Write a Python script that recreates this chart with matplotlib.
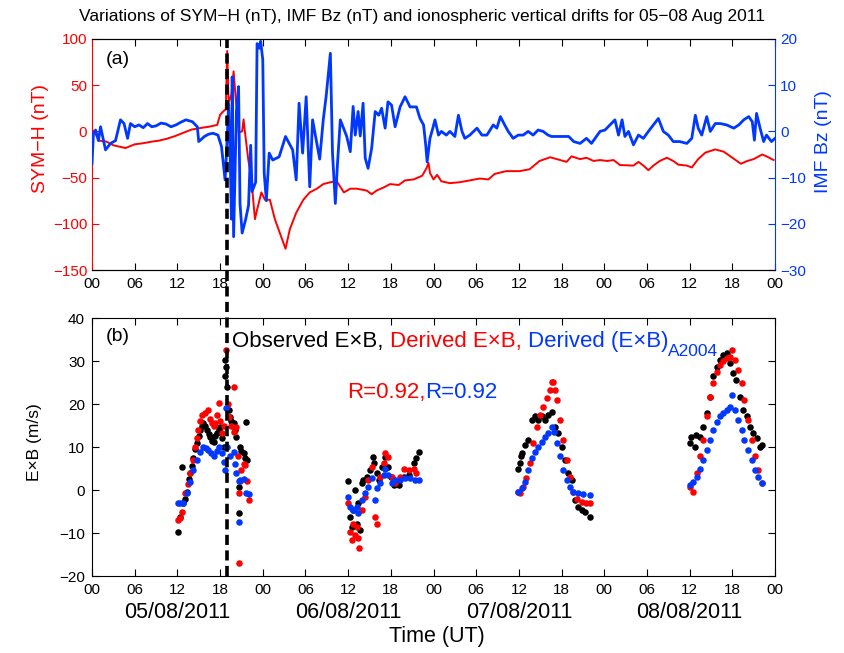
import matplotlib
matplotlib.use("Agg")
import matplotlib.pyplot as plt
import matplotlib.transforms as mtransforms
from matplotlib.lines import Line2D
import numpy as np

plt.rcParams["font.family"] = ["Liberation Sans", "DejaVu Sans"]

RED = "#ff0000"
BLUE = "#0038ff"

# hours since 00 UT 05/08/2011
symh_t = [0.0, 0.5, 1.0, 2.0, 3.0, 4.7, 6.0, 7.0, 8.5, 9.4, 10.5, 11.7, 13.0, 14.0, 15.5,
          16.4, 17.6, 18.0, 18.5, 18.8, 19.0, 19.2, 19.6, 19.9, 20.1, 20.3, 20.5, 20.6,
          21.1, 21.3, 21.5, 21.95, 22.4, 22.9, 23.1, 23.8, 24.3, 25.0, 25.7, 26.4, 27.2,
          27.8, 28.7, 29.7, 30.6, 31.6, 32.5, 33.5, 34.4, 35.4, 36.3, 37.2, 38.6, 39.3,
          40.0, 40.9, 41.9, 43.1, 44.0, 45.2, 46.4, 47.0, 47.3, 47.5, 48.0, 48.5, 49.1,
          50.3, 51.7, 53.1, 54.5, 55.7, 56.6, 58.2, 60.1, 61.5, 62.9, 64.4, 65.8, 66.7,
          67.4, 68.6, 69.5, 70.5, 71.4, 72.4, 73.3, 74.2, 76.1, 76.8, 77.5, 78.2, 78.9,
          79.8, 80.8, 81.7, 82.4, 83.6, 84.3, 85.2, 86.2, 87.6, 88.8, 90.0, 91.2, 92.1,
          93.0, 94.2, 94.8, 95.8]
symh_v = [2, -3, -10, -11, -15, -18, -14, -13, -11, -10, -8, -5, -1, 2, 4,
          5, 7, 18, 22, 24, 87, 31, 40, 65, 45, 27, 24, -1,
          0, 13, -1, -30, -52, -95, -88, -66, -74, -74, -95, -110, -127,
          -106, -88, -74, -66, -62, -57, -55, -54, -66, -62, -62, -64, -68,
          -64, -61, -57, -58, -53, -52, -48, -40, -34, -45, -52, -47, -54,
          -56, -55, -53, -51, -52, -46, -43, -43, -41, -32, -28, -31, -33,
          -27, -30, -28.5, -32, -31, -32, -31, -36.4, -37, -33, -37, -42, -37,
          -32, -28.5, -32, -36, -37, -39, -30, -23, -19.5, -22, -28.5, -35, -32,
          -30, -25, -27, -31]

bz_t = [0.0, 0.2, 0.5, 0.9, 1.2, 1.9, 2.6, 3.3, 4.0, 4.5, 5.0, 5.4, 6.0, 6.6, 7.2, 7.8,
        8.4, 9.0, 9.7, 10.4, 11.1, 11.8, 12.5, 13.2, 14.1, 14.8, 15.0, 15.8, 16.4, 17.0,
        17.7, 18.2, 18.7, 18.9, 19.2, 19.4, 19.6, 19.7, 19.9, 20.3, 20.6, 20.8, 21.1,
        21.6, 22.0, 22.3, 22.5, 23.0, 23.2, 23.5, 23.7, 24.0, 24.2, 24.5, 24.9, 25.4,
        26.3, 27.2, 28.2, 28.7, 29.1, 29.6, 30.1, 30.6, 31.0, 32.0, 32.5, 32.9, 33.5,
        33.8, 34.2, 34.5, 34.9, 35.8, 36.3, 36.7, 37.0, 37.4, 37.7, 38.1, 38.4, 38.8,
        39.3, 39.8, 40.3, 40.7, 41.2, 41.6, 42.1, 42.6, 43.3, 44.0, 44.7, 45.6, 46.1,
        46.6, 46.9, 47.1, 47.5, 47.9, 48.2, 48.7, 49.1, 49.8, 50.3, 51.0, 51.5, 52.0,
        52.4, 53.1, 54.1, 54.8, 55.5, 56.4, 56.9, 57.4, 58.0, 58.5, 59.2, 59.9, 60.6,
        61.3, 62.0, 62.7, 63.4, 64.1, 64.6, 65.8, 67.0, 67.7, 68.6, 69.5, 70.2, 70.9,
        71.4, 72.1, 72.8, 73.5, 74.0, 74.5, 74.9, 75.4, 76.1, 76.8, 77.5, 78.2, 78.9,
        79.6, 80.3, 81.0, 81.7, 82.6, 83.6, 84.3, 84.8, 85.2, 85.7, 86.4, 86.9, 87.6,
        88.3, 89.2, 90.2, 90.9, 91.6, 92.3, 92.8, 93.1, 93.4, 93.9, 94.4, 94.8, 95.5,
        96.0]
bz_v = [-7, -0.4, 0.3, -2, 1, -4, -2.6, -2, 2.5, 1.7, -1.5, 1.7, 1.0, 1.4, 0.8, 1.7,
        1.0, 1.2, 1.8, 1.6, 1.0, 1.4, 2.0, 2.5, 2.1, 1, -2.2, -1.1, -0.6, -0.4,
        -0.8, -3.3, -10.5, -4.7, 6, -4, -19, 11.8, -22.8, 4.6, 9.7, -15.6, -22,
        -19, -16, -3, -13, -11, 19, 18, 19.5, 15.5, -9, -15, -4.7, -6.2,
        -5.5, -1.1, -4, -10.5, 6.1, -4.7, 7.5, -12, 2.5, -6, 2.5, 7.5, 16.9,
        -4.7, -15.6, -7, 2.5, -1.1, -4.4, 5.4, -0.8, 4.3, -1, 6.1, -5.8, -8,
        -3.7, 4.3, 3.5, 5, 0.7, 6.4, 5.7, 1, 5.3, 7.5, 5.3, 5.3, 2.8,
        1.4, -2.9, -6.6, -1.5, 0.7, 2.5, -0.8, 0, -0.8, 0, -1.1, 3.5, 0,
        -1.5, -0.8, 0.7, -0.8, -0.8, 1.4, 0.7, 3.2, 1.4, 0, -1.5, -0.8, -0.8,
        0, -0.8, 0.3, 0, -0.8, -1.1, -1.1, -1.1, -2.2, -2.6, -1.5, -2.6, -1.1,
        0, 0.3, 1.4, 2.5, -0.8, 2.5, -1.1, 0, -2.9, -0.8, -1.5, 0, 1.4,
        2.8, 0, -0.8, -2.2, -2.2, -2.6, -1.5, 3.5, 0.7, -0.8, 3.2, 0, 1.7,
        1.7, 1.4, 0.7, 1.4, 2.5, 3.2, 2.1, -1.9, 3.9, 0.7, -2.2, -0.8, -2.2,
        -1.5]

# vertical drifts (m/s)
obs_t = [12.1, 12.3, 12.6, 12.8, 13.0, 13.3, 13.6, 13.8, 14.0, 14.2, 14.5, 14.7, 15.0, 15.2,
         15.4, 15.6, 15.9, 16.1, 16.4, 16.6, 16.9, 17.1, 17.3, 17.5, 17.8, 18.0, 18.3, 18.5,
         18.7, 18.75, 18.8, 19.0, 19.2, 19.4, 19.6, 19.9, 20.1, 20.3, 20.6, 20.7, 20.8,
         21.0, 21.3, 21.5, 21.7, 21.75,
         36.0, 36.3, 36.5, 36.7, 36.9, 37.2, 37.4, 37.7, 37.9, 38.1, 38.6, 39.1, 39.5, 39.7,
         40.0, 40.3, 40.7, 41.2, 41.6, 42.0, 42.4, 43.1, 43.8, 44.5, 45.2, 45.6, 45.9,
         59.9, 60.1, 60.3, 60.5, 60.9, 61.3, 61.8, 62.3, 62.7, 63.2, 63.7, 64.1, 64.6, 65.1,
         65.5, 66.0, 66.5, 66.9, 67.4, 67.9, 68.3, 68.8, 69.3, 69.98,
         84.0, 84.2, 84.7, 84.9, 85.4, 85.9, 86.4, 86.9, 87.3, 87.8, 88.3, 88.7, 89.2, 89.7,
         90.1, 90.5, 91.1, 91.5, 92.0, 92.5, 92.9, 93.4, 93.9, 94.1]
obs_v = [-9.7, -6.2, 5.4, -3.1, -2.0, -0.4, 2.5, 3.9, 5.5, 7.4, 9.5, 10.9, 12.5, 14.0,
         15.0, 15.5, 14.8, 14.0, 13.0, 12.4, 11.5, 11.2, 12.5, 13.2, 14.2, 14.7, 12.0, 10.1,
         30.2, 26.4, 28.5, 24.0, 18.5, 17.0, 16.0, 15.5, 14.0, 12.4, -5.4, 0.8, 10.1,
         9.0, 8.5, 7.5, 15.9, 7.0,
         2.1, -6.2, -8.5, -4.6, 0.0, -7.8, -3.1, -9.3, 1.6, 2.3, 3.1, 4.7, 7.7, 6.2,
         4.0, 2.3, 5.4, 7.7, 5.4, 3.0, 1.2, 1.2, 3.1, 3.5, 6.2, 7.4, 8.9,
         5.0, 6.2, 7.8, 8.5, 10.5, 11.7, 16.3, 17.1, 16.3, 17.1, 16.3, 17.4, 18.2, 14.7,
         13.2, 10.1, 7.0, 3.9, 2.3, -2.3, -3.9, -4.7, -5.0, -6.2,
         10.9, 12.4, 10.1, 12.8, 12.4, 14.7, 17.8, 21.7, 26.4, 28.7, 30.2, 31.4, 31.8, 29.5,
         27.1, 25.6, 21.7, 18.6, 17.1, 14.7, 13.2, 12.0, 10.1, 10.5]

der_t = [12.1, 12.3, 12.6, 13.1, 13.5, 13.8, 14.2, 14.5, 14.7, 14.9, 15.2, 15.4, 15.9, 16.3,
         16.6, 16.8, 17.1, 17.3, 17.6, 17.8, 18.0, 18.2, 18.5, 18.9, 19.1, 19.3, 19.6, 19.9,
         20.0, 20.3, 20.5, 20.6, 20.7, 20.8, 21.0, 21.3, 21.5, 21.8, 22.0,
         36.0, 36.3, 36.5, 36.7, 36.9, 37.2, 37.4, 37.5, 37.9, 38.4, 38.8, 39.3, 39.8, 40.0,
         40.5, 41.0, 41.2, 41.6, 42.1, 42.6, 43.3, 43.8, 44.5, 45.2, 45.6,
         59.9, 60.1, 60.6, 61.0, 61.5, 62.0, 62.5, 62.9, 63.4, 63.9, 64.4, 64.6, 64.8, 65.1,
         65.3, 65.8, 66.2, 66.7, 67.2, 67.6, 68.1, 68.8, 69.5, 69.98,
         84.0, 84.5, 85.0, 85.4, 85.9, 86.4, 86.9, 87.3, 87.8, 88.3, 88.7, 89.2, 89.7, 90.0,
         90.4, 90.8, 91.3, 91.7, 92.2, 92.7, 93.2, 93.6, 94.1]
der_v = [-7.0, -6.5, -5.0, -0.8, 1.5, 3.9, 7.0, 10.0, 12.0, 14.0, 16.0, 17.4, 17.8, 18.6,
         16.5, 15.5, 15.0, 15.5, 17.5, 20.2, 16.0, 13.2, 15.0, 32.6, 20.0, 17.0, 15.0, 13.6,
         23.9, 14.7, 8.0, -0.8, -17.0, 2.0, 4.7, 6.0, 5.8, 2.0, -2.3,
         -3.1, -9.7, -11.6, -8.0, -10.5, -8.5, -11.2, -13.6, -4.6, -1.6, 2.3, 5.4, -6.2, -7.8,
         3.1, 6.2, 8.5, 7.7, 3.1, 1.6, 3.1, 5.0, 4.6, 5.0, 3.9,
         -0.4, -0.8, 0.8, 2.7, 6.2, 10.9, 14.7, 17.4, 19.4, 21.3, 23.3, 25.2, 25.2, 23.3,
         20.9, 16.3, 11.7, 7.0, 3.1, -0.4, -2.0, -2.7, -3.1, -3.1,
         0.8, -0.4, 3.9, 7.8, 11.7, 17.1, 21.7, 24.8, 27.5, 29.1, 29.9, 30.6, 31.0, 32.6,
         30.2, 27.9, 24.8, 20.9, 16.3, 11.7, 7.8, 4.7, 1.6]

a04_t = [12.1, 12.4, 12.8, 13.3, 13.8, 14.2, 14.7, 15.2, 15.6, 16.0, 16.3, 16.7, 17.1, 17.5,
         17.8, 18.2, 18.5, 18.7, 18.9, 19.0, 19.4, 19.9, 20.1, 20.3, 20.6, 20.7, 20.8, 21.3,
         21.7, 22.0,
         36.0, 36.3, 36.7, 37.2, 37.4, 37.9, 38.4, 38.8, 39.3, 39.8, 40.0, 40.5, 41.0, 41.2,
         41.6, 42.1, 42.6, 43.3, 44.0, 44.7, 45.4, 45.9,
         59.9, 60.4, 60.9, 61.3, 61.8, 62.3, 62.7, 63.2, 63.7, 64.1, 64.6, 64.9, 65.3, 65.8,
         66.2, 66.7, 67.2, 67.6, 68.3, 69.0, 69.98,
         84.0, 84.5, 85.0, 85.4, 85.9, 86.4, 86.9, 87.3, 87.8, 88.3, 88.7, 89.2, 89.7, 90.0,
         90.4, 90.8, 91.3, 91.7, 92.2, 92.7, 93.2, 93.6, 94.1]
a04_v = [-3.1, -3.0, -3.0, -0.8, 1.9, 4.7, 7.0, 8.9, 10.1, 9.8, 9.3, 8.5, 7.8, 9.0,
         10.1, 8.5, 6.5, 4.7, 19.0, 10.0, 7.8, 8.9, 6.0, 3.9, 2.0, -7.4, 2.3, 2.5,
         -0.8, -1.0,
         -1.6, -3.9, -4.6, -3.9, -5.4, -2.3, -0.8, 0.8, 2.7, -2.3, 0.4, 1.6, 3.5, 5.0,
         3.5, 1.6, 2.3, 2.3, 2.7, 2.7, 2.3, 2.3,
         -0.4, 0.4, 1.9, 4.7, 7.4, 8.9, 10.1, 11.2, 12.4, 13.2, 14.7, 13.6, 10.9, 7.8,
         4.7, 2.3, 0.8, -0.4, -0.8, -1.0, -1.2,
         1.2, 1.9, 3.1, 5.0, 7.0, 9.3, 11.7, 14.0, 15.9, 17.1, 17.8, 18.6, 19.4, 22.1,
         18.6, 16.3, 14.0, 11.7, 9.3, 7.0, 4.7, 3.1, 1.6]

ssc_hour = 19.0
dates = ["05/08/2011", "06/08/2011", "07/08/2011", "08/08/2011"]
xticks = np.arange(0, 97, 6)
xticklabels = ["%02d" % (h % 24) for h in xticks]

fig = plt.figure(figsize=(8.45, 6.53), dpi=100)
ax1 = fig.add_axes([0.1089, 0.5865, 0.8083, 0.3538])
ax1r = ax1.twinx()
ax2 = fig.add_axes([0.1089, 0.1179, 0.8083, 0.3951])

# panel (a)
ax1.plot(symh_t, symh_v, color=RED, lw=1.4)
ax1r.plot(bz_t, bz_v, color=BLUE, lw=2.0)
ax1.set_xlim(0, 96)
ax1.set_ylim(-150, 100)
ax1r.set_ylim(-30, 20)
ax1.set_yticks(np.arange(-150, 101, 50))
ax1r.set_yticks(np.arange(-30, 21, 10))
ax1.set_xticks(xticks)
ax1.set_xticklabels(xticklabels)
ax1.tick_params(axis="x", direction="in", top=True, length=5, labelsize=11, pad=5)
ax1.tick_params(axis="y", direction="in", colors=RED, length=5, labelsize=11, labelcolor=RED)
ax1r.tick_params(axis="y", direction="in", colors=BLUE, length=5, labelsize=11, labelcolor=BLUE)
ax1.spines["left"].set_color(RED)
ax1.spines["right"].set_visible(False)
ax1r.spines["left"].set_visible(False)
ax1r.spines["right"].set_color(BLUE)
ax1.set_ylabel("SYM−H (nT)", color=RED, fontsize=14)
ax1.yaxis.set_label_coords(-0.063, 0.57)
ax1r.set_ylabel("IMF Bz (nT)", color=BLUE, fontsize=14)
ax1r.yaxis.set_label_coords(1.058, 0.555)
ax1.text(0.02, 0.95, "(a)", transform=ax1.transAxes, fontsize=14, va="top")

# panel (b)
ax2.scatter(obs_t, obs_v, s=22, color="black", linewidths=0, zorder=3)
ax2.scatter(der_t, der_v, s=22, color=RED, linewidths=0, zorder=3)
ax2.scatter(a04_t, a04_v, s=22, color=BLUE, linewidths=0, zorder=3)
ax2.set_xlim(0, 96)
ax2.set_ylim(-20, 40)
ax2.set_yticks(np.arange(-20, 41, 10))
ax2.set_xticks(xticks)
ax2.set_xticklabels(xticklabels)
ax2.tick_params(direction="in", top=True, right=True, length=5, labelsize=11, pad=5)
ax2.set_ylabel("E×B (m/s)", fontsize=12.5)
ax2.yaxis.set_label_coords(-0.073, 0.52)
ax2.text(0.02, 0.96, "(b)", transform=ax2.transAxes, fontsize=14, va="top")

t1 = ax2.text(19.7, 34.5, "Observed E×B, ", fontsize=16, color="black", va="center")
t2 = ax2.annotate("Derived E×B, ", xy=(1, 0), xycoords=t1, va="bottom", fontsize=16, color=RED)
t3 = ax2.annotate("Derived (E×B)", xy=(1, 0), xycoords=t2, va="bottom", fontsize=16, color=BLUE)
ax2.annotate("A2004", xy=(1, 0.05), xycoords=t3, va="center", fontsize=12.5, color=BLUE)
r1 = ax2.text(35.8, 22.6, "R=0.92,", fontsize=16, color=RED, va="center")
ax2.annotate("R=0.92", xy=(1, 0), xycoords=r1, va="bottom", fontsize=16, color=BLUE)

trans = mtransforms.blended_transform_factory(ax2.transData, ax2.transAxes)
for i, d in enumerate(dates):
    ax2.text(24 * i + 12, -0.143, d, transform=trans, ha="center", va="center", fontsize=15.5)
ax2.text(48.5, -0.233, "Time (UT)", transform=trans, ha="center", va="center", fontsize=15.5)

fig.text(0.5, 0.974, "Variations of SYM−H (nT), IMF Bz (nT) and ionospheric vertical drifts for 05−08 Aug 2011",
         ha="center", va="center", fontsize=12.5)

# storm sudden commencement marker across both panels
ftrans = mtransforms.blended_transform_factory(ax1.transData, fig.transFigure)
fig.add_artist(Line2D([ssc_hour, ssc_hour], [0.1179, 0.9403], transform=ftrans,
                      color="black", lw=2.6, linestyle=(0, (2.8, 1.5)), zorder=10))

fig.savefig("out.png", dpi=100)
